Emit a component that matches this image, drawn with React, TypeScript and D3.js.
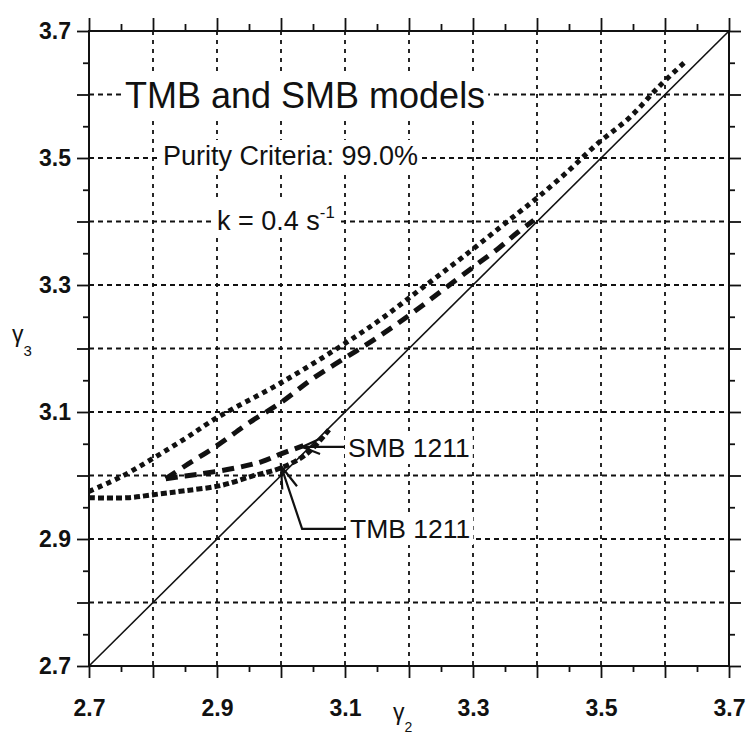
import React, { useRef, useEffect } from 'react';
import * as d3 from 'd3';

// tick labels on both axes
const xLabels = [2.7, 2.9, 3.1, 3.3, 3.5, 3.7];
const yLabels = [2.7, 2.9, 3.1, 3.3, 3.5, 3.7];

// TMB 1211, outer boundary (dotted)
const tmbOuterX = [2.70, 2.75, 2.80, 2.85, 2.90, 3.00, 3.10, 3.16, 3.22, 3.284, 3.36, 3.40, 3.445, 3.495, 3.545, 3.59, 3.63];
const tmbOuterY = [2.975, 2.998, 3.027, 3.058, 3.091, 3.146, 3.208, 3.249, 3.295, 3.344, 3.405, 3.437, 3.476, 3.523, 3.564, 3.612, 3.650];

// TMB 1211, inner boundary (dotted)
const tmbInnerX = [2.70, 2.76, 2.81, 2.85, 2.905, 2.955, 3.00, 3.04, 3.075];
const tmbInnerY = [2.965, 2.965, 2.971, 2.976, 2.984, 2.999, 3.012, 3.034, 3.072];

// SMB 1211, outer boundary (dashed)
const smbOuterX = [2.82, 2.85, 2.90, 2.95, 3.00, 3.05, 3.10, 3.15, 3.20, 3.25, 3.30, 3.34, 3.37, 3.395];
const smbOuterY = [2.995, 3.015, 3.047, 3.083, 3.115, 3.153, 3.185, 3.217, 3.252, 3.290, 3.328, 3.358, 3.383, 3.402];

// SMB 1211, inner boundary (dashed)
const smbInnerX = [2.82, 2.87, 2.93, 2.97, 3.00, 3.035];
const smbInnerY = [2.995, 3.002, 3.012, 3.022, 3.034, 3.047];

// annotation arrows (data units)
const smbArrowX = [3.10, 3.033];
const smbArrowY = [3.045, 3.045];
const smbBarbX = [3.061, 3.033, 3.061];
const smbBarbY = [3.058, 3.045, 3.034];
const tmbArrowX = [3.10, 3.033, 3.0];
const tmbArrowY = [2.916, 2.916, 3.015];
const tmbBarbX = [3.002, 3.0, 3.025];
const tmbBarbY = [2.978, 3.015, 2.983];

const FONT = "'Liberation Sans', Arial, sans-serif";
const INK = '#111';

export default function App() {
  const ref = useRef<SVGSVGElement>(null);

  useEffect(() => {
    const width = 747;
    const height = 740;

    const x = d3.scaleLinear().domain([2.7, 3.7]).range([89, 729]);
    const y = d3.scaleLinear().domain([2.7, 3.7]).range([666, 31]);

    const svg = d3.select(ref.current);
    svg.selectAll('*').remove();

    svg.append('rect').attr('width', width).attr('height', height).attr('fill', '#fff');

    const grid = d3.range(28, 37).map(d => d / 10);
    const major = d3.range(27, 38).map(d => d / 10);
    const minor = d3.range(27, 37).map(d => d / 10 + 0.05);

    // --- grid ---
    svg.append('g')
      .selectAll('line')
      .data(grid)
      .join('line')
        .attr('x1', d => x(d)).attr('x2', d => x(d))
        .attr('y1', y(3.7)).attr('y2', y(2.7))
        .attr('stroke', INK)
        .attr('stroke-width', 1.8)
        .attr('stroke-dasharray', '4,5');

    svg.append('g')
      .selectAll('line')
      .data(grid)
      .join('line')
        .attr('y1', d => y(d)).attr('y2', d => y(d))
        .attr('x1', x(2.7)).attr('x2', x(3.7))
        .attr('stroke', INK)
        .attr('stroke-width', 1.8)
        .attr('stroke-dasharray', '5,4');

    // --- text with white boxes (they hide the grid) ---
    const boxed = (tx: number, ty: number, txt: string, size: number, sup?: string) => {
      const g = svg.append('g');
      const t = g.append('text')
        .attr('x', tx).attr('y', ty)
        .attr('font-family', FONT)
        .attr('font-size', size)
        .attr('fill', INK)
        .text(txt);
      if (sup) {
        t.append('tspan').attr('dy', -12).attr('font-size', size * 0.62).text(sup);
      }
      const b = (t.node() as SVGTextElement).getBBox();
      g.insert('rect', 'text')
        .attr('x', b.x - 3).attr('y', b.y - 1)
        .attr('width', b.width + 6).attr('height', b.height + 2)
        .attr('fill', '#fff');
    };

    boxed(125, 108, 'TMB and SMB models', 36);
    boxed(163, 165, 'Purity Criteria: 99.0%', 27);
    boxed(217, 230, 'k = 0.4 s', 27, '-1');
    boxed(348, 457, 'SMB 1211', 26.5);
    boxed(350, 538, 'TMB 1211', 26.5);

    // --- frame ---
    svg.append('rect')
      .attr('x', x(2.7)).attr('y', y(3.7))
      .attr('width', x(3.7) - x(2.7)).attr('height', y(2.7) - y(3.7))
      .attr('fill', 'none')
      .attr('stroke', INK)
      .attr('stroke-width', 2);

    // --- diagonal ---
    svg.append('line')
      .attr('x1', x(2.7)).attr('y1', y(2.7))
      .attr('x2', x(3.7)).attr('y2', y(3.7))
      .attr('stroke', INK)
      .attr('stroke-width', 1.6);

    // --- curves ---
    const line = d3.line<[number, number]>()
      .x(d => x(d[0]))
      .y(d => y(d[1]))
      .curve(d3.curveCatmullRom);

    const curves = [
      { xs: tmbOuterX, ys: tmbOuterY, dash: '5,4.5' },
      { xs: tmbInnerX, ys: tmbInnerY, dash: '6,3' },
      { xs: smbOuterX, ys: smbOuterY, dash: '12,8' },
      { xs: smbInnerX, ys: smbInnerY, dash: '12,7' },
    ];

    svg.append('g')
      .selectAll('path')
      .data(curves)
      .join('path')
        .attr('d', c => line(c.xs.map((v, i) => [v, c.ys[i]] as [number, number])))
        .attr('fill', 'none')
        .attr('stroke', INK)
        .attr('stroke-width', 5)
        .attr('stroke-dasharray', c => c.dash);

    // --- arrows ---
    const straight = d3.line<[number, number]>().x(d => x(d[0])).y(d => y(d[1]));
    const arrows = [
      [smbArrowX, smbArrowY],
      [smbBarbX, smbBarbY],
      [tmbArrowX, tmbArrowY],
      [tmbBarbX, tmbBarbY],
    ];
    svg.append('g')
      .selectAll('path')
      .data(arrows)
      .join('path')
        .attr('d', a => straight(a[0].map((v, i) => [v, a[1][i]] as [number, number])))
        .attr('fill', 'none')
        .attr('stroke', INK)
        .attr('stroke-width', 2.2);

    // --- axes ---
    const fmt = d3.format('.1f');
    const styleAxis = (g: d3.Selection<SVGGElement, unknown, null, undefined>) => {
      g.select('.domain').remove();
      g.selectAll('.tick line').attr('stroke', INK).attr('stroke-width', 1.8);
      g.selectAll('.tick text')
        .attr('fill', INK)
        .attr('font-family', FONT)
        .attr('font-size', 23)
        .attr('font-weight', 'bold');
    };

    const bottom = svg.append('g').attr('transform', `translate(0,${y(2.7)})`);
    bottom.append('g')
      .call(d3.axisBottom(x).tickValues(major).tickSize(12).tickPadding(22)
        .tickFormat(d => (xLabels.includes(+d) ? fmt(+d) : '')))
      .call(styleAxis);
    bottom.append('g')
      .call(d3.axisBottom(x).tickValues(minor).tickSize(6).tickFormat(() => ''))
      .call(styleAxis);

    const left = svg.append('g').attr('transform', `translate(${x(2.7)},0)`);
    left.append('g')
      .call(d3.axisLeft(y).tickValues(major).tickSize(12).tickPadding(6)
        .tickFormat(d => (yLabels.includes(+d) ? fmt(+d) : '')))
      .call(styleAxis);
    left.append('g')
      .call(d3.axisLeft(y).tickValues(minor).tickSize(6).tickFormat(() => ''))
      .call(styleAxis);

    const top = svg.append('g').attr('transform', `translate(0,${y(3.7)})`);
    top.append('g')
      .call(d3.axisTop(x).tickValues(major).tickSize(13).tickFormat(() => ''))
      .call(styleAxis);
    top.append('g')
      .call(d3.axisTop(x).tickValues(minor).tickSize(7).tickFormat(() => ''))
      .call(styleAxis);

    const right = svg.append('g').attr('transform', `translate(${x(3.7)},0)`);
    right.append('g')
      .call(d3.axisRight(y).tickValues(major).tickSize(12).tickFormat(() => ''))
      .call(styleAxis);
    right.append('g')
      .call(d3.axisRight(y).tickValues(minor).tickSize(6).tickFormat(() => ''))
      .call(styleAxis);

    // --- axis titles ---
    const xt = svg.append('text')
      .attr('x', 393).attr('y', 720)
      .attr('font-family', FONT).attr('font-size', 23).attr('fill', INK)
      .text('γ');
    xt.append('tspan').attr('dy', 12).attr('font-size', 14).text('2');

    const yt = svg.append('text')
      .attr('x', 12).attr('y', 342)
      .attr('font-family', FONT).attr('font-size', 23).attr('fill', INK)
      .text('γ');
    yt.append('tspan').attr('dy', 14).attr('font-size', 15).text('3');
  }, []);

  return (
    <svg
      ref={ref}
      width={747}
      height={740}
      style={{ position: 'absolute', left: 0, top: 0 }}
    />
  );
}
